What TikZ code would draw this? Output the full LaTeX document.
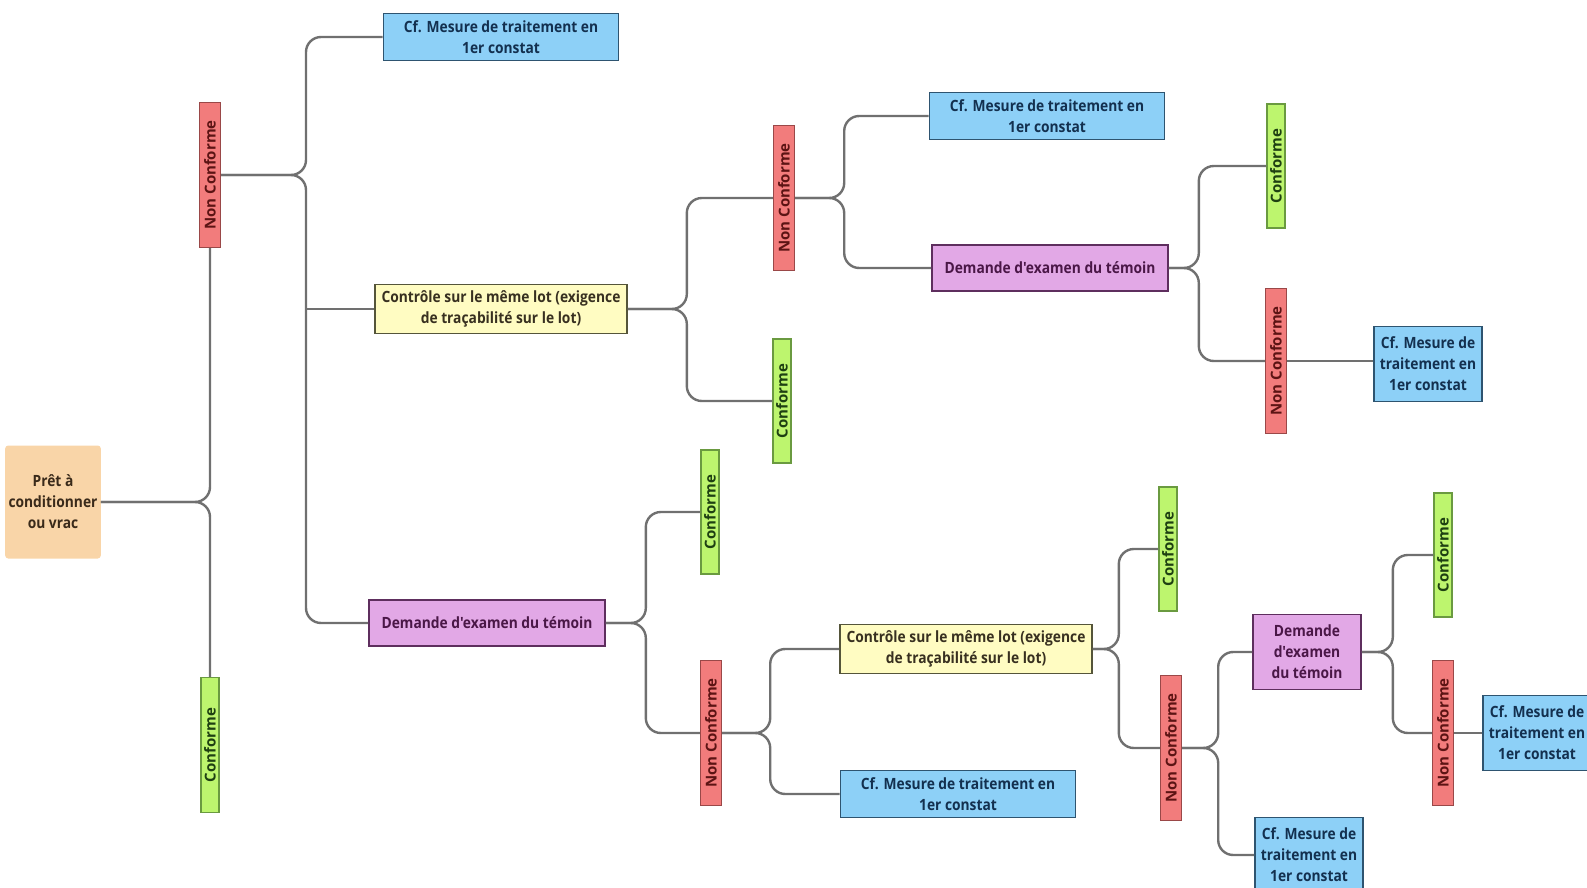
\documentclass[tikz,border=0pt]{standalone}
\usepackage{fontspec}
\usepackage{graphicx}
\usepackage{xcolor}
\usepackage{tikz}
\usetikzlibrary{calc,positioning}
\newfontfamily\boxfont{Open Sans}[FakeStretch=0.89]
\newfontfamily\tagfont{Open Sans}

\definecolor{bluefill}{HTML}{8DD0F7}
\definecolor{blueline}{HTML}{2E5470}
\definecolor{bluetext}{HTML}{13304F}
\definecolor{yelfill}{HTML}{FFFCC2}
\definecolor{yelline}{HTML}{55553A}
\definecolor{yeltext}{HTML}{383020}
\definecolor{pinkfill}{HTML}{E2A8E6}
\definecolor{pinkline}{HTML}{5E2E5E}
\definecolor{pinktext}{HTML}{4A1747}
\definecolor{redfill}{HTML}{F27C7C}
\definecolor{redline}{HTML}{9A4848}
\definecolor{redtext}{HTML}{5C1414}
\definecolor{greenfill}{HTML}{BDF56E}
\definecolor{greenline}{HTML}{6A9A40}
\definecolor{greentext}{HTML}{1E4012}
\definecolor{peach}{HTML}{F9D5A8}
\definecolor{rootext}{HTML}{3A2A1A}
\definecolor{linkgray}{HTML}{707070}

\begin{document}
\begin{tikzpicture}[x=1pt,y=-1pt,
	box/.style={draw, line width=1.6pt, inner sep=0pt, align=center,
		font=\boxfont\bfseries\fontsize{15.5}{21}\selectfont},
	bluebox/.style={box, fill=bluefill, draw=blueline, text=bluetext, minimum width=235pt, minimum height=47pt},
	smallblue/.style={box, fill=bluefill, draw=blueline, text=bluetext, minimum width=108pt, minimum height=75pt},
	yelbox/.style={box, fill=yelfill, draw=yelline, text=yeltext, minimum width=252pt, minimum height=49pt},
	pinkbox/.style={box, fill=pinkfill, draw=pinkline, text=pinktext, minimum width=236pt, minimum height=46pt},
	smallpink/.style={box, fill=pinkfill, draw=pinkline, text=pinktext, minimum width=108pt, minimum height=75pt},
	tag/.style={draw, line width=1.4pt, inner sep=0pt, font=\tagfont\bfseries\fontsize{15}{18}\selectfont},
	nctag/.style={tag, fill=redfill, draw=redline, text=redtext, minimum width=21pt, minimum height=145pt},
	conftag/.style={tag, fill=greenfill, draw=greenline, text=greentext, minimum width=18pt, minimum height=124pt},
	link/.style={draw=linkgray, line width=2.4pt, rounded corners=15pt}]
	\useasboundingbox (0,0) rectangle (1587,888);
	
	\node[fill=peach, rounded corners=3pt, minimum width=94pt, minimum height=113pt, align=center, text=rootext,
		font=\boxfont\bfseries\fontsize{15.5}{21}\selectfont] (root) at (53,502) {Prêt à\\conditionner\\ou vrac};
	
	\node[nctag] (nc1) at (210,175) {\rotatebox{90}{Non Conforme}};
	\node[conftag, minimum height=135pt] (conf1) at (210,745) {\rotatebox{90}{Conforme}};
	
	\node[bluebox] (blue1) at (501,37) {Cf. Mesure de traitement en\\1er constat};
	\node[yelbox] (yel1) at (501,309) {Contrôle sur le même lot (exigence\\de traçabilité sur le lot)};
	\node[pinkbox] (pink1) at (487,623) {Demande d'examen du témoin};
	
	\node[nctag] (nc2) at (784,198) {\rotatebox{90}{Non Conforme}};
	\node[conftag] (conf2) at (782,401) {\rotatebox{90}{Conforme}};
	\node[bluebox] (blue2) at (1047,116) {Cf. Mesure de traitement en\\1er constat};
	\node[pinkbox] (pink2) at (1050,268) {Demande d'examen du témoin};
	\node[conftag] (conf3) at (1276,166) {\rotatebox{90}{Conforme}};
	\node[nctag] (nc3) at (1276,361) {\rotatebox{90}{Non Conforme}};
	\node[smallblue] (blue3) at (1428,364) {Cf. Mesure de\\traitement en\\1er constat};
	
	\node[conftag] (conf4) at (710,512) {\rotatebox{90}{Conforme}};
	\node[nctag] (nc4) at (711,733) {\rotatebox{90}{Non Conforme}};
	\node[yelbox] (yel2) at (966,649) {Contrôle sur le même lot (exigence\\de traçabilité sur le lot)};
	\node[bluebox] (blue4) at (958,794) {Cf. Mesure de traitement en\\1er constat};
	\node[conftag] (conf5) at (1168,549) {\rotatebox{90}{Conforme}};
	\node[nctag] (nc5) at (1171,748) {\rotatebox{90}{Non Conforme}};
	\node[smallpink] (pink3) at (1307,652) {Demande\\d'examen\\du témoin};
	\node[smallblue] (blue5) at (1309,855) {Cf. Mesure de\\traitement en\\1er constat};
	\node[conftag] (conf6) at (1443,555) {\rotatebox{90}{Conforme}};
	\node[nctag] (nc6) at (1443,733) {\rotatebox{90}{Non Conforme}};
	\node[smallblue] (blue6) at (1537,733) {Cf. Mesure de\\traitement en\\1er constat};
	
	\draw[link] (root.east) -| (nc1.south);
	\draw[link] (root.east) -| (conf1.north);
	
	\coordinate (trunk) at (306,175);
	\draw[link] (nc1.east) -- (trunk) |- (blue1.west);
	\draw[link] (nc1.east) -- (trunk) |- (pink1.west);
	\draw[link] (yel1.west -| trunk) -- (yel1.west);
	
	\draw[link] (yel1.east) -- ++(59,0) |- (nc2.west);
	\draw[link] (yel1.east) -- ++(59,0) |- (conf2.west);
	\draw[link] (nc2.east) -- ++(49,0) |- (blue2.west);
	\draw[link] (nc2.east) -- ++(49,0) |- (pink2.west);
	\draw[link] (pink2.east) -- ++(30,0) |- (conf3.west);
	\draw[link] (pink2.east) -- ++(30,0) |- (nc3.west);
	\draw[link] (nc3.east) -- (nc3.east -| blue3.west);
	
	\draw[link] (pink1.east) -- ++(40,0) |- (conf4.west);
	\draw[link] (pink1.east) -- ++(40,0) |- (nc4.west);
	\draw[link] (nc4.east) -- ++(48,0) |- (yel2.west);
	\draw[link] (nc4.east) -- ++(48,0) |- (blue4.west);
	\draw[link] (yel2.east) -- ++(26,0) |- (conf5.west);
	\draw[link] (yel2.east) -- ++(26,0) |- (nc5.west);
	\draw[link] (nc5.east) -- ++(36,0) |- (pink3.west);
	\draw[link] (nc5.east) -- ++(36,0) |- (blue5.west);
	\draw[link] (pink3.east) -- ++(31,0) |- (conf6.west);
	\draw[link] (pink3.east) -- ++(31,0) |- (nc6.west);
	\draw[link] (nc6.east) -- (nc6.east -| blue6.west);
\end{tikzpicture}
\end{document}
